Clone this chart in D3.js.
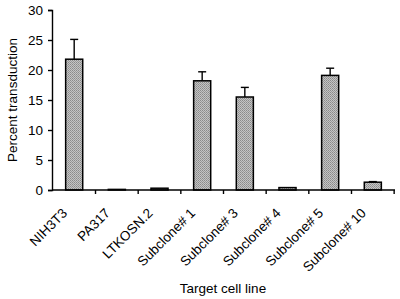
<!DOCTYPE html>
<html>
<head>
<meta charset="utf-8">
<script src="https://cdn.jsdelivr.net/npm/d3@7"></script>
<style>
  body { margin: 0; background: #fff; }
  text { font-family: "Liberation Sans", Arial, sans-serif; fill: #000; }
</style>
</head>
<body>
<svg id="chart" width="400" height="299"></svg>
<script>
// values
let cellLines = ["NIH3T3", "PA317", "LTKOSN.2", "Subclone# 1", "Subclone# 3", "Subclone# 4", "Subclone# 5", "Subclone# 10"];
let percent = [21.8, 0.1, 0.3, 18.2, 15.5, 0.4, 19.1, 1.3];
let errors = [3.3, 0, 0, 1.5, 1.6, 0, 1.2, 0.1];
let yTicks = [0, 5, 10, 15, 20, 25, 30];

let svg = d3.select("#chart");
let margin = { left: 52, right: 5, top: 10, bottom: 109 },
    width = 400 - margin.left - margin.right,
    height = 299 - margin.top - margin.bottom;

// stippled grey fill like the printed figure
let pat = svg.append("defs").append("pattern")
    .attr("id", "stipple")
    .attr("width", 2).attr("height", 2)
    .attr("patternUnits", "userSpaceOnUse");
pat.append("rect").attr("width", 2).attr("height", 2).attr("fill", "#c4c4c4");
pat.append("rect").attr("width", 1).attr("height", 1).attr("fill", "#8a8a8a");
pat.append("rect").attr("x", 1).attr("y", 1).attr("width", 1).attr("height", 1).attr("fill", "#9a9a9a");

let g = svg.append("g").attr("transform", "translate(" + margin.left + "," + margin.top + ")");

let x = d3.scaleBand().domain(cellLines).range([0, width]).paddingInner(0.6).paddingOuter(0.32);
let y = d3.scaleLinear().domain([0, 30]).range([height, 0]);

// bars
g.selectAll("rect.bar")
    .data(cellLines)
    .enter().append("rect")
    .attr("class", "bar")
    .attr("x", function (d) { return x(d); })
    .attr("y", function (d, i) { return y(percent[i]); })
    .attr("width", x.bandwidth())
    .attr("height", function (d, i) { return y(0) - y(percent[i]); })
    .attr("fill", "url(#stipple)")
    .attr("stroke", "#000")
    .attr("stroke-width", 1.5);

// error bars (upper only)
let errG = g.selectAll("g.err")
    .data(cellLines.filter(function (d, i) { return errors[i] > 0; }))
    .enter().append("g").attr("class", "err");

errG.append("line")
    .attr("x1", function (d) { return x(d) + x.bandwidth() / 2; })
    .attr("x2", function (d) { return x(d) + x.bandwidth() / 2; })
    .attr("y1", function (d) { let i = cellLines.indexOf(d); return y(percent[i]); })
    .attr("y2", function (d) { let i = cellLines.indexOf(d); return y(percent[i] + errors[i]); })
    .attr("stroke", "#000").attr("stroke-width", 1.4);

errG.append("line")
    .attr("x1", function (d) { return x(d) + x.bandwidth() / 2 - 4; })
    .attr("x2", function (d) { return x(d) + x.bandwidth() / 2 + 4; })
    .attr("y1", function (d) { let i = cellLines.indexOf(d); return y(percent[i] + errors[i]); })
    .attr("y2", function (d) { let i = cellLines.indexOf(d); return y(percent[i] + errors[i]); })
    .attr("stroke", "#000").attr("stroke-width", 1.4);

// y axis
let yAxis = g.append("g")
    .call(d3.axisLeft(y).tickValues(yTicks).tickSize(4).tickPadding(5));
yAxis.selectAll("text").style("font-size", "13.5px");
yAxis.selectAll("line, path").attr("stroke", "#000").attr("stroke-width", 1.4);

// x axis: ticks at band boundaries
let xAxis = g.append("g").attr("transform", "translate(0," + height + ")");
xAxis.append("line")
    .attr("x1", 0).attr("x2", width)
    .attr("stroke", "#000").attr("stroke-width", 1.4);
let step = x.step();
xAxis.selectAll("line.tick")
    .data(cellLines)
    .enter().append("line")
    .attr("class", "tick")
    .attr("x1", function (d) { return x(d) + x.bandwidth() / 2 + step / 2; })
    .attr("x2", function (d) { return x(d) + x.bandwidth() / 2 + step / 2; })
    .attr("y1", 0).attr("y2", 4)
    .attr("stroke", "#000").attr("stroke-width", 1.4);

xAxis.selectAll("text.lbl")
    .data(cellLines)
    .enter().append("text")
    .attr("class", "lbl")
    .attr("text-anchor", "end")
    .style("font-size", "13.5px")
    .attr("transform", function (d) {
        return "translate(" + (x(d) + x.bandwidth() / 2 - 6) + ",24) rotate(-45)";
    })
    .text(function (d) { return d; });

// axis titles
svg.append("text")
    .attr("x", 223).attr("y", 293)
    .attr("text-anchor", "middle")
    .style("font-size", "13.5px")
    .text("Target cell line");

svg.append("text")
    .attr("transform", "translate(17," + (margin.top + height / 2) + ") rotate(-90)")
    .attr("text-anchor", "middle")
    .style("font-size", "13.5px")
    .text("Percent transduction");
</script>
</body>
</html>
